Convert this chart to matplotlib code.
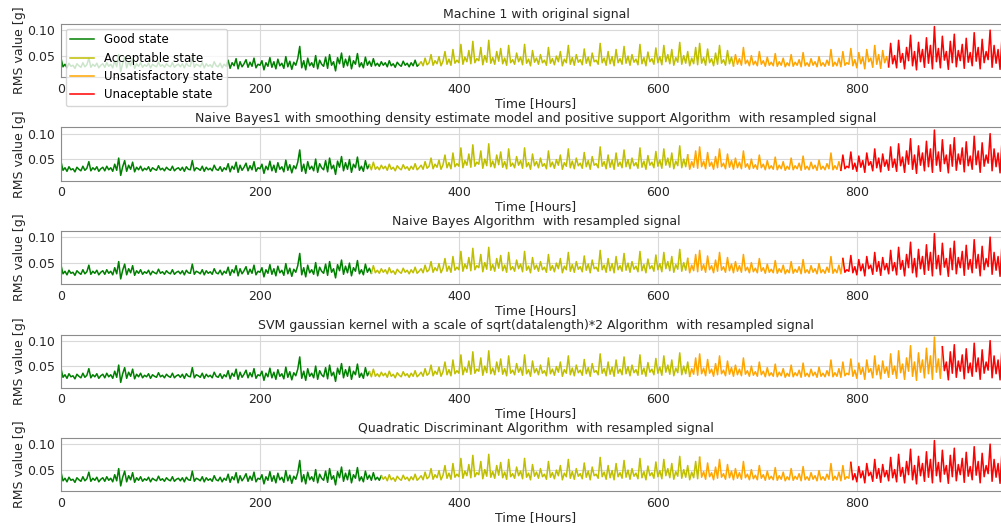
"""
plot.py

RMS trend of machine 1, coloured by machine state, for the original signal
and for four classifiers applied to the resampled signal.
"""

from __future__ import annotations

import matplotlib

matplotlib.use("Agg")
import matplotlib.pyplot as plt
import numpy as np


# RMS value, one sample every 2 hours, in milli-g
RMS_MG = [
    45, 28, 33, 26, 35, 29, 31, 25, 34, 30, 27, 36, 28, 32, 45, 27, 33, 29, 35, 26,
    31, 34, 27, 36, 29, 33, 26, 40, 28, 52, 18, 35, 47, 26, 38, 30, 44, 25, 34, 29,
    36, 27, 32, 29, 35, 26, 33, 30, 28, 37, 29, 32, 27, 34, 30, 28, 36, 27, 31, 33,
    28, 34, 26, 35, 30, 29, 47, 27, 33, 31, 28, 36, 26, 34, 29, 32, 27, 38, 30, 28,
    35, 26, 33, 29, 41, 25, 36, 30, 44, 24, 38, 28, 34, 42, 27, 37, 29, 45, 26, 33,
    31, 40, 22, 36, 29, 46, 27, 38, 24, 43, 30, 35, 25, 48, 28, 39, 23, 37, 31, 44,
    68, 26, 40, 22, 45, 30, 36, 27, 50, 24, 41, 33, 29, 47, 25, 52, 31, 38, 20, 46,
    34, 55, 27, 43, 30, 49, 24, 40, 33, 54, 28, 36, 26, 47, 31, 39, 29, 44, 30, 35,
    29, 38, 31, 36, 28, 40, 30, 34, 27, 37, 32, 29, 39, 31, 35, 28, 36, 30, 41, 29,
    33, 38, 30, 45, 32, 36, 52, 31, 40, 34, 48, 30, 39, 58, 33, 43, 31, 62, 35, 41,
    36, 72, 33, 47, 38, 60, 34, 78, 36, 44, 40, 66, 32, 50, 37, 80, 35, 46, 33, 58,
    39, 64, 34, 45, 31, 70, 36, 42, 33, 55, 38, 47, 32, 72, 35, 43, 30, 60, 37, 45,
    33, 52, 36, 41, 31, 66, 35, 44, 32, 49, 38, 58, 30, 43, 36, 70, 33, 46, 31, 52,
    37, 42, 32, 63, 35, 47, 30, 55, 38, 41, 33, 74, 36, 45, 31, 58, 34, 48, 30, 62,
    36, 44, 33, 68, 35, 49, 31, 52, 37, 43, 32, 72, 34, 46, 30, 57, 38, 44, 33, 65,
    36, 48, 32, 70, 38, 52, 34, 62, 31, 46, 37, 76, 33, 50, 35, 58, 30, 45, 34, 66,
    32, 74, 35, 46, 31, 63, 36, 44, 30, 55, 33, 70, 35, 42, 31, 60, 34, 47, 30, 52,
    33, 44, 31, 66, 34, 41, 30, 50, 32, 39, 30, 58, 33, 40, 29, 47, 31, 37, 30, 54,
    29, 38, 31, 45, 28, 36, 30, 52, 29, 37, 31, 42, 28, 56, 30, 36, 29, 44, 31, 38,
    28, 48, 30, 36, 29, 41, 31, 62, 29, 37, 30, 45, 28, 58, 31, 36, 33, 64, 30, 42,
    26, 56, 34, 47, 24, 62, 38, 45, 27, 70, 33, 52, 25, 60, 36, 48, 28, 74, 34, 50,
    26, 80, 37, 54, 24, 66, 40, 90, 30, 58, 22, 76, 38, 62, 27, 85, 35, 70, 24, 107,
    38, 64, 26, 88, 41, 58, 23, 78, 36, 92, 28, 60, 40, 72, 25, 84, 37, 56, 30, 95,
    39, 66, 24, 82, 36, 58, 42, 100, 27, 70, 35, 62, 23, 88, 40, 72, 31, 96, 36, 60,
]
SAMPLE_STEP_H = 2

STATES = ["Good state", "Acceptable state", "Unsatisfactory state", "Unaceptable state"]
STATE_COLORS = ["green", "y", "orange", "red"]

TITLES = [
    "Machine 1 with original signal",
    "Naive Bayes1 with smoothing density estimate model and positive support Algorithm  with resampled signal",
    "Naive Bayes Algorithm  with resampled signal",
    "SVM gaussian kernel with a scale of sqrt(datalength)*2 Algorithm  with resampled signal",
    "Quadratic Discriminant Algorithm  with resampled signal",
]

# hour at which each state change happens (good->acc, acc->unsat, unsat->unacc)
STATE_CHANGES_H = [
    [359, 675, 831],
    [310, 630, 783],
    [312, 630, 786],
    [310, 632, 885],
    [321, 642, 793],
]

FIG_W, FIG_H = 1001, 526
TEXT_COLOR = "0.15"
FONT_SIZE = 9


def plot_states(ax, hours, rms, changes) -> None:
    edges = [0] + [int(np.searchsorted(hours, c)) for c in changes] + [len(hours) - 1]
    for k, color in enumerate(STATE_COLORS):
        i0, i1 = edges[k], edges[k + 1]
        ax.plot(hours[i0:i1 + 1], rms[i0:i1 + 1], color=color, linewidth=1.1, label=STATES[k])


def main() -> None:
    rms = np.array(RMS_MG) / 1000.0
    hours = np.arange(len(rms)) * SAMPLE_STEP_H

    plt.rcParams["font.family"] = "DejaVu Sans"
    fig = plt.figure(figsize=(FIG_W / 100, FIG_H / 100), dpi=100)

    for i, (title, changes) in enumerate(zip(TITLES, STATE_CHANGES_H)):
        top_px = 24 + 103.5 * i
        ax = fig.add_axes([61 / FIG_W, 1 - (top_px + 53) / FIG_H, 950 / FIG_W, 53 / FIG_H])
        plot_states(ax, hours, rms, changes)
        ax.set_xlim(0, 955)
        ax.set_ylim(0.008, 0.112)
        ax.set_xticks([0, 200, 400, 600, 800])
        ax.set_yticks([0.05, 0.10])
        ax.set_yticklabels(["0.05", "0.10"])
        ax.grid(True, color="0.85", linewidth=0.8)
        ax.set_axisbelow(True)
        for spine in ax.spines.values():
            spine.set_color("0.55")
        ax.tick_params(length=0, pad=4, labelsize=FONT_SIZE, labelcolor=TEXT_COLOR)
        ax.set_title(title, fontsize=FONT_SIZE, color=TEXT_COLOR, pad=4)
        ax.set_xlabel("Time [Hours]", fontsize=FONT_SIZE, color=TEXT_COLOR, labelpad=1)
        ax.set_ylabel("RMS value [g]", fontsize=FONT_SIZE, color=TEXT_COLOR, labelpad=1)
        if i == 0:
            ax.legend(loc="upper left", fontsize=8.5, framealpha=0.8,
                      borderaxespad=0.4, handlelength=2.0, labelspacing=0.45)

    fig.savefig("out.png", dpi=100)
    plt.close(fig)


if __name__ == "__main__":
    main()
